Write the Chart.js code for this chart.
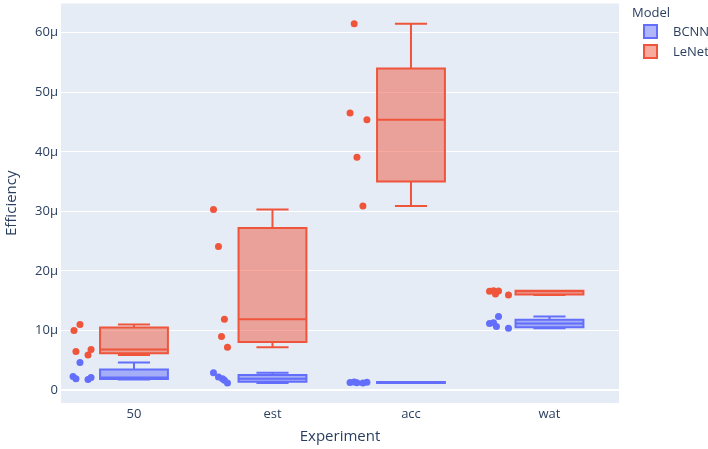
<!DOCTYPE html>
<html>
<head>
<meta charset="utf-8">
<script src="https://cdn.jsdelivr.net/npm/chart.js@4"></script>
<style>
  body { margin: 0; background: #fff; }
  canvas { display: block; }
</style>
</head>
<body>
<canvas id="grafica" width="708" height="449"></canvas>
<script>
// datos (valores en micro unidades)
const categories = ['50', 'est', 'acc', 'wat']
const yTicks = [0, 10, 20, 30, 40, 50, 60]

const bcnnValues = [
  [4.65, 2.3, 1.9, 1.8, 2.1],
  [2.9, 2.2, 1.9, 1.65, 1.2],
  [1.3, 1.38, 1.22, 1.18, 1.32],
  [12.35, 11.2, 11.3, 10.7, 10.4]
]
// desplazamiento horizontal de cada punto (en unidades de categoria)
const bcnnJitter = [
  [-0.39, -0.44, -0.419, -0.332, -0.31],
  [-0.426, -0.39, -0.361, -0.347, -0.325],
  [-0.44, -0.41, -0.39, -0.347, -0.318],
  [-0.368, -0.433, -0.404, -0.383, -0.296]
]
const lenetValues = [
  [10.0, 11.0, 6.5, 5.9, 6.8],
  [30.3, 24.1, 11.9, 9.0, 7.2],
  [61.5, 46.5, 45.4, 39.1, 30.9],
  [16.6, 16.7, 16.65, 15.95, 16.15]
]
const lenetJitter = [
  [-0.433, -0.39, -0.419, -0.332, -0.31],
  [-0.426, -0.39, -0.347, -0.368, -0.325],
  [-0.41, -0.44, -0.318, -0.39, -0.347],
  [-0.433, -0.404, -0.368, -0.296, -0.39]
]

const txt = '#2a3f5f'
const font = '"Open Sans", "Noto Sans", sans-serif'

const series = [
  { label: 'BCNN', color: '#636efa', fill: 'rgba(99,110,250,0.5)', values: bcnnValues, jitter: bcnnJitter },
  { label: 'LeNet', color: '#ef553b', fill: 'rgba(239,85,59,0.5)', values: lenetValues, jitter: lenetJitter }
]

// cuartiles (metodo exclusivo)
function quantile(sorted, p) {
  let pos = (sorted.length + 1) * p - 1
  pos = Math.max(0, Math.min(sorted.length - 1, pos))
  const lo = Math.floor(pos), hi = Math.ceil(pos)
  return sorted[lo] + (sorted[hi] - sorted[lo]) * (pos - lo)
}
function stats(vals) {
  const s = [...vals].sort((a, b) => a - b)
  return { min: s[0], q1: quantile(s, 0.25), med: quantile(s, 0.5), q3: quantile(s, 0.75), max: s[s.length - 1] }
}

const datasets = series.map(sr => ({
  label: sr.label,
  data: sr.values.flatMap((vals, i) => vals.map((v, k) => ({ x: i + sr.jitter[i][k], y: v }))),
  backgroundColor: sr.color,
  borderWidth: 0,
  pointRadius: 3.5,
  pointHoverRadius: 3.5
}))

const fondo = {
  id: 'fondo',
  beforeDraw(chart) {
    const a = chart.chartArea, c = chart.ctx
    c.save()
    c.fillStyle = '#E5ECF6'
    c.fillRect(a.left, a.top, a.right - a.left, a.bottom - a.top)
    c.restore()
  }
}

const cajas = {
  id: 'cajas',
  beforeDatasetsDraw(chart) {
    const c = chart.ctx, xs = chart.scales.x, ys = chart.scales.y
    c.save()
    series.forEach(sr => {
      sr.values.forEach((vals, i) => {
        const st = stats(vals)
        const x0 = xs.getPixelForValue(i - 0.245), x1 = xs.getPixelForValue(i + 0.245)
        const c0 = xs.getPixelForValue(i - 0.116), c1 = xs.getPixelForValue(i + 0.116)
        const xm = xs.getPixelForValue(i)
        const yq1 = ys.getPixelForValue(st.q1), yq3 = ys.getPixelForValue(st.q3)
        const ymed = ys.getPixelForValue(st.med)
        const ymin = ys.getPixelForValue(st.min), ymax = ys.getPixelForValue(st.max)
        c.strokeStyle = sr.color
        c.lineWidth = 2
        c.fillStyle = sr.fill
        c.fillRect(x0, yq3, x1 - x0, yq1 - yq3)
        c.beginPath()
        c.rect(x0, yq3, x1 - x0, yq1 - yq3)
        c.moveTo(x0, ymed); c.lineTo(x1, ymed)
        c.moveTo(xm, yq3); c.lineTo(xm, ymax)
        c.moveTo(c0, ymax); c.lineTo(c1, ymax)
        c.moveTo(xm, yq1); c.lineTo(xm, ymin)
        c.moveTo(c0, ymin); c.lineTo(c1, ymin)
        c.stroke()
      })
    })
    c.restore()
  }
}

const leyenda = {
  id: 'leyenda',
  afterDraw(chart) {
    const c = chart.ctx
    c.save()
    c.font = '13px ' + font
    c.fillStyle = txt
    c.textBaseline = 'middle'
    c.textAlign = 'left'
    c.fillText('Model', 632, 13)
    series.forEach((sr, k) => {
      const y = 31 + k * 20
      c.fillStyle = sr.fill
      c.fillRect(644, y - 6, 13, 13)
      c.strokeStyle = sr.color
      c.lineWidth = 2
      c.strokeRect(644, y - 6, 13, 13)
      c.fillStyle = txt
      c.fillText(sr.label, 673, y + 1)
    })
    c.restore()
  }
}

const ctx = document.getElementById('grafica')
const grafica = new Chart(ctx, {
  type: 'scatter',
  data: { datasets: datasets },
  plugins: [fondo, cajas, leyenda],
  options: {
    responsive: false,
    animation: false,
    layout: { padding: { left: 0, top: 0, right: 89, bottom: 0 } },
    plugins: { legend: { display: false }, tooltip: { enabled: false } },
    scales: {
      x: {
        type: 'linear',
        min: -0.527,
        max: 3.502,
        grid: { display: false, drawTicks: false },
        border: { display: false },
        afterBuildTicks: s => { s.ticks = categories.map((c, i) => ({ value: i })) },
        afterFit: s => { s.height = 46; s.paddingLeft = 0; s.paddingRight = 0 },
        ticks: {
          autoSkip: false, maxRotation: 0, padding: 3,
          color: txt, font: { family: font, size: 13 },
          callback: v => categories[v]
        },
        title: { display: true, text: 'Experiment', color: txt, font: { family: font, size: 15 }, padding: { top: 4, bottom: 3 } }
      },
      y: {
        min: -2.16,
        max: 64.9,
        grid: { color: '#ffffff', drawTicks: false, lineWidth: c => c.tick && c.tick.value === 0 ? 2 : 1 },
        border: { display: false },
        afterBuildTicks: s => { s.ticks = yTicks.map(v => ({ value: v })) },
        afterFit: s => { s.width = 61; s.paddingTop = 0; s.paddingBottom = 0 },
        ticks: {
          padding: 3, color: txt, font: { family: font, size: 13 },
          callback: v => v === 0 ? '0' : v + 'μ'
        },
        title: { display: true, text: 'Efficiency', color: txt, font: { family: font, size: 15 }, padding: { top: 3, bottom: 4 } }
      }
    }
  }
})
</script>
</body>
</html>
